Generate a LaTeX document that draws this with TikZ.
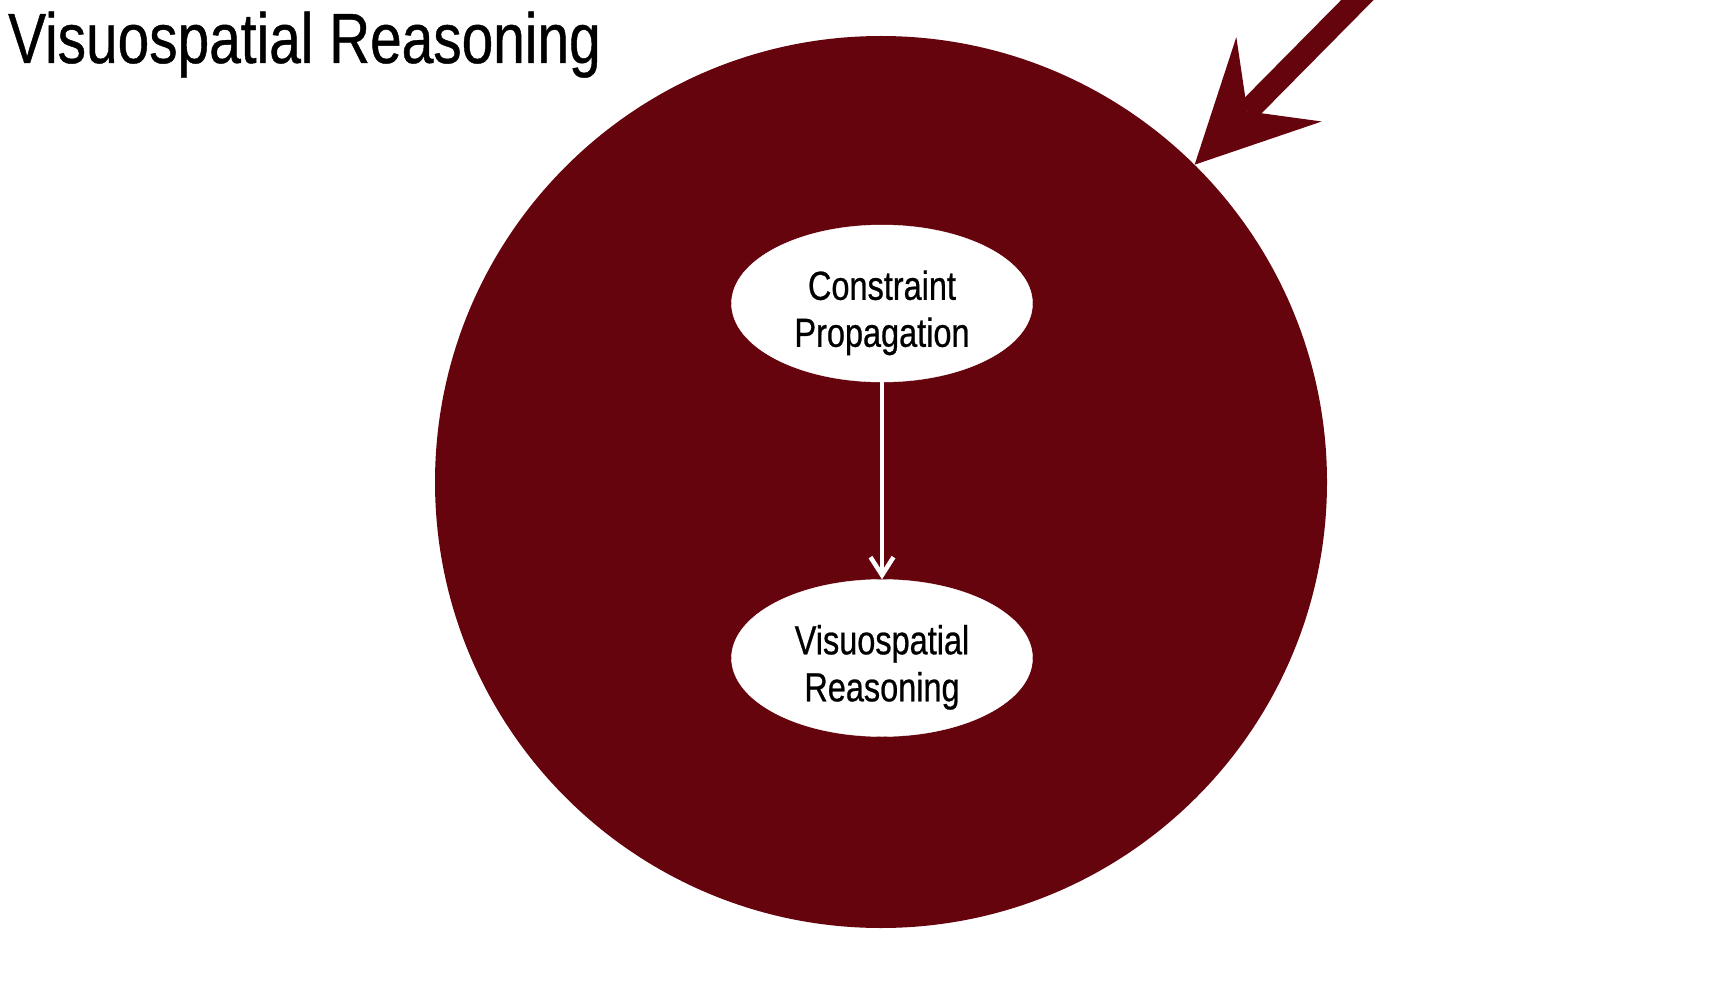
\documentclass[tikz,border=0pt]{standalone}
\usepackage{fontspec}
\setmainfont{Liberation Sans}
\newfontfamily\narrowsans[FakeStretch=0.8,FakeBold=0.6]{Liberation Sans}
\usetikzlibrary{arrows.meta,shapes.geometric}
\definecolor{maroon}{RGB}{102,4,14}
\begin{document}
\begin{tikzpicture}[x=1pt,y=-1pt,
  bubble/.style={ellipse, fill=white, draw=white, minimum width=301pt, minimum height=157pt,
    inner sep=0pt, align=center, text=black, font=\narrowsans\fontsize{40.6}{47}\selectfont},
  bigarrow/.style={maroon, line width=23pt,
    -{Stealth[length=120pt,width=120pt,inset=45pt,line width=0pt]}},
  flow/.style={white, line width=4.5pt, -{Straight Barb[length=18pt,width=23pt,line width=4.5pt]}}
  ]
\useasboundingbox (0,0) rectangle (1736,984);
\clip (0,0) rectangle (1736,984);
\fill[white] (0,0) rectangle (1736,984);
\node[circle, fill=maroon, minimum size=892pt, inner sep=0pt] (circ) at (881,482) {};
\node[anchor=base west, inner sep=0pt, font=\narrowsans\fontsize{71}{80}\selectfont] (title) at (8,63) {Visuospatial Reasoning};
\node[bubble] (cp) at (882,303.5) {\rule{0pt}{48pt}Constraint\\Propagation};
\node[bubble] (vr) at (882,658) {\rule{0pt}{48pt}Visuospatial\\Reasoning};
\draw[flow] (cp) -- (vr);
\coordinate (src) at (1390,-33);
\draw[bigarrow] (src) -- (circ);
\end{tikzpicture}
\end{document}
